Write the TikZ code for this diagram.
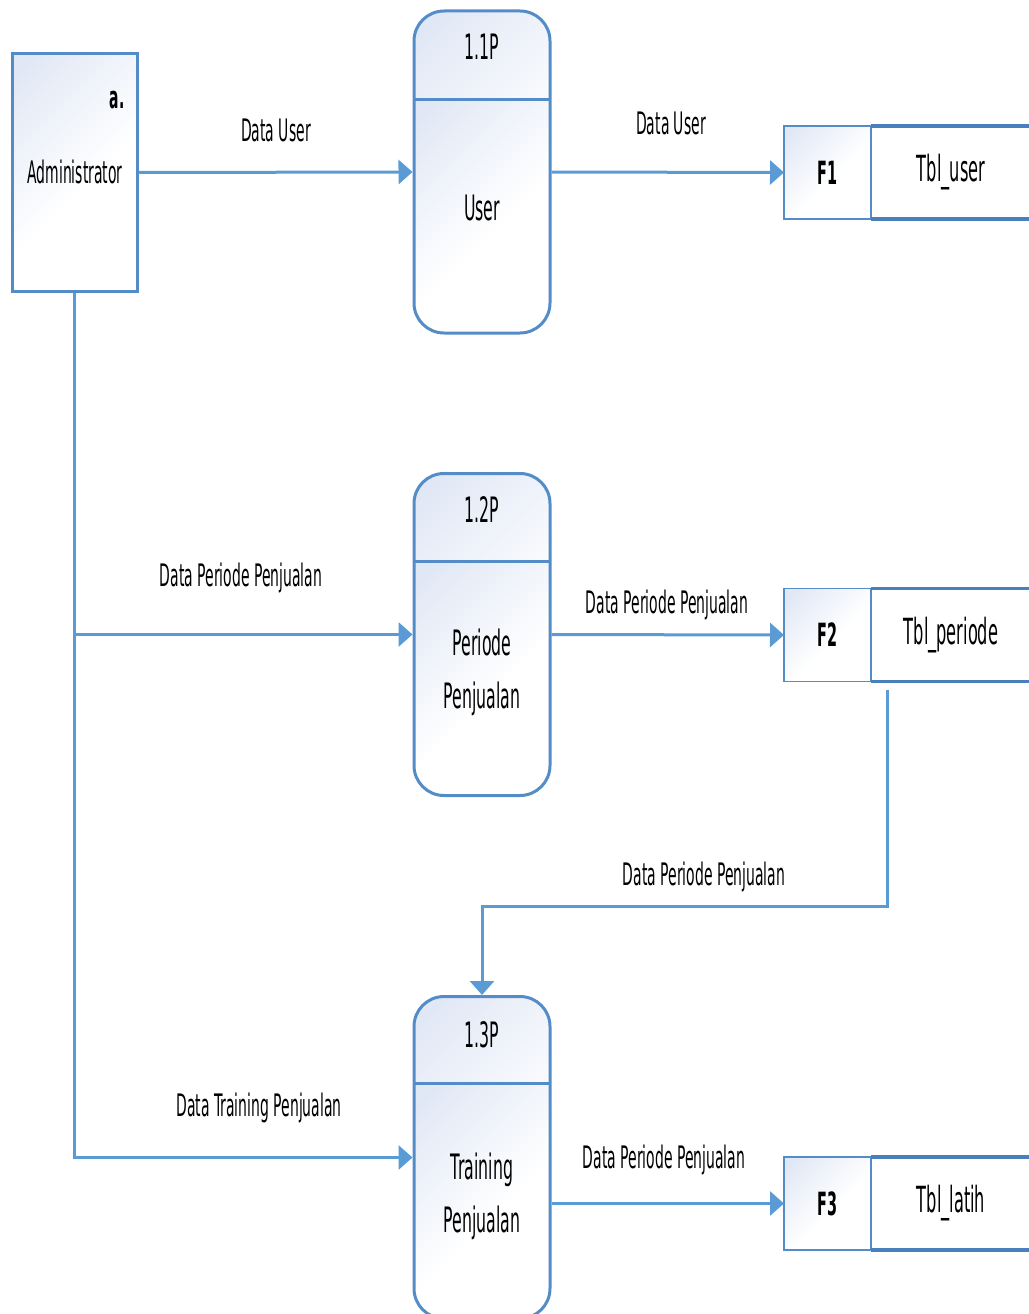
\documentclass[tikz,border=0pt]{standalone}
\usepackage{fontspec}
\setmainfont[FakeStretch=0.45]{DejaVu Sans}
\usetikzlibrary{arrows.meta}
\definecolor{flowblue}{RGB}{91,155,213}
\definecolor{edgeblue}{RGB}{84,140,200}
\definecolor{darkedge}{RGB}{72,128,190}
\definecolor{tint}{RGB}{224,231,245}
% soft fill: tinted in one corner, white over most of the area
\pgfdeclareverticalshading{softfade}{100bp}{color(0bp)=(white); color(45bp)=(white); color(82bp)=(tint); color(100bp)=(tint)}
\begin{document}
\begin{tikzpicture}[x=1pt,y=-1pt,
  shaded/.style={shading=softfade, shading angle=45},
  entity/.style={draw=edgeblue, line width=3pt, shaded, minimum width=125pt, minimum height=237pt, inner sep=0pt},
  proc/.style={draw=edgeblue, line width=3pt, rounded corners=30pt, minimum width=136pt, minimum height=322pt, inner sep=0pt,
    path picture={
      \shade[shaded, sharp corners] (path picture bounding box.north west) rectangle ([yshift=-88pt]path picture bounding box.north east);
      \shade[shaded, sharp corners] ([yshift=-88pt]path picture bounding box.north west) rectangle (path picture bounding box.south east);
    }},
  divider/.style={draw=edgeblue, line width=3pt},
  storeid/.style={draw=edgeblue, line width=1.5pt, shaded, minimum width=87pt, minimum height=93pt, inner sep=0pt, outer sep=0pt},
  storeedge/.style={draw=darkedge, line width=3.5pt},
  flowarrow/.style={draw=flowblue, line width=3pt, -{Triangle[length=14pt,width=24pt]}},
  lbl/.style={font=\fontsize{31}{36}\selectfont, inner sep=0pt, align=center},
  ptext/.style={font=\fontsize{35}{53}\selectfont, inner sep=0pt, align=center},
  sid/.style={font=\fontsize{32}{36}\selectfont\bfseries, inner sep=0pt},
  sname/.style={font=\fontsize{36}{40}\selectfont, inner sep=0pt},
]
\useasboundingbox (0,0) rectangle (1028,1314);

% external entity
\node[entity] (admin) at (74.5,172.5) {};
\node[lbl, font=\fontsize{31}{36}\selectfont\bfseries] (adminid) at (117,100) {a.};
\node[lbl] (adminname) at (75,172) {Administrator};

% processes
\node[proc] (p1) at (482,172) {};
\draw[divider] (414,99) -- (550,99);
\node[ptext] (p1id) at (482,47) {1.1P};
\node[ptext] (p1name) at (482,208) {User};

\node[proc] (p2) at (482,634.5) {};
\draw[divider] (414,561) -- (550,561);
\node[ptext] (p2id) at (482,510) {1.2P};
\node[ptext] (p2name) at (482,672) {Periode\\Penjualan};

\node[proc] (p3) at (482,1157.5) {};
\draw[divider] (414,1083) -- (550,1083);
\node[ptext] (p3id) at (482,1035) {1.3P};
\node[ptext] (p3name) at (482,1196) {Training\\Penjualan};

% data stores
\foreach \n/\y/\id/\tbl in {f1/172.5/F1/Tbl\_user, f2/635/F2/Tbl\_periode, f3/1203.5/F3/Tbl\_latih}{
  \node[storeid] (\n) at (827.5,\y) {};
  \draw[storeedge] (\n.north east) -- ++(170,0);
  \draw[storeedge] (\n.south east) -- ++(170,0);
  \node[sid] (\n id) at (\n) {\id};
  \node[sname] (\n name) at (951,\y) {\tbl};
}

% data flows
\draw[flowarrow] (admin.east) -- (p1.west);
\node[lbl] (l1) at (276,130) {Data User};

\draw[flowarrow] (p1.east) -- (f1.west);
\node[lbl] (l2) at (671,123) {Data User};

\draw[flowarrow] (admin.south) |- (p2.west);
\node[lbl] (l3) at (241,578) {Data Periode Penjualan};

\draw[flowarrow] (admin.south) |- (p3.west);
\node[lbl] (l4) at (259,1108) {Data Training Penjualan};

\draw[flowarrow] (p2.east) -- (f2.west);
\node[lbl] (l5) at (667,605) {Data Periode Penjualan};

\coordinate (f2out) at (887,690);
\draw[flowarrow] (f2out) -- (887,906) -| (p3.north);
\node[lbl] (l6) at (704,877) {Data Periode Penjualan};

\draw[flowarrow] (p3.east |- f3.west) -- (f3.west);
\node[lbl] (l7) at (664,1160) {Data Periode Penjualan};
\end{tikzpicture}
\end{document}
